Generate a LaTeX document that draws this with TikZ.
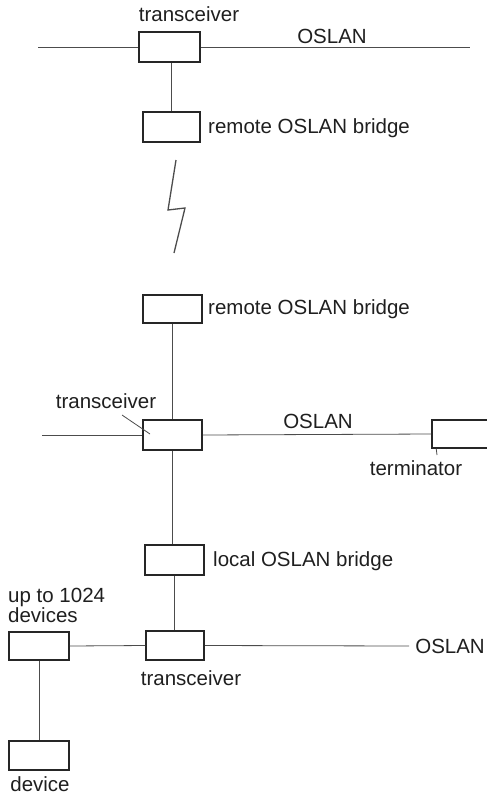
\documentclass[tikz,border=0pt]{standalone}
\usepackage{fontspec}
\setmainfont{Liberation Sans}
\begin{document}
\begin{tikzpicture}[x=1pt,y=-1pt,
  box/.style={draw=black!85,line width=1.5pt,rectangle,inner sep=0pt},
  wire/.style={draw=black!70,line width=0.8pt},
  lbl/.style={inner sep=0pt,text=black!88,font=\fontsize{20.5}{22}\selectfont}]
\useasboundingbox (0,0) rectangle (487,796);
% boxes
\node[box,minimum width=61pt,minimum height=30pt] (tx1) at (169.5,47) {};
\node[box,minimum width=57pt,minimum height=30pt] (rb1) at (171.5,127) {};
\node[box,minimum width=59pt,minimum height=28pt] (rb2) at (172.5,309) {};
\node[box,minimum width=59pt,minimum height=30pt] (tx2) at (172.5,435) {};
\node[box,minimum width=68pt,minimum height=28pt] (term) at (466,434) {};
\node[box,minimum width=59pt,minimum height=30pt] (lb) at (174.5,560) {};
\node[box,minimum width=58pt,minimum height=29pt] (tx3) at (175,645.5) {};
\node[box,minimum width=60pt,minimum height=28pt] (dev) at (39,646) {};
\node[box,minimum width=60pt,minimum height=29pt] (dv) at (39,755.5) {};
% free ends
\coordinate (b1l) at (38,47);
\coordinate (b1r) at (470,47);
\coordinate (b2l) at (42,435);
\coordinate (b3r) at (409,646);
\coordinate (tick) at (437,455);
\coordinate (lead) at (150,434);
% labels
\node[lbl,anchor=base] (ltx1) at (189,21) {transceiver};
\node[lbl,anchor=base] (los1) at (332,43) {OSLAN};
\node[lbl,anchor=base west] (lrb1) at (208,133) {remote OSLAN bridge};
\node[lbl,anchor=base west] (lrb2) at (208,314) {remote OSLAN bridge};
\node[lbl,anchor=base] (ltx2) at (106,408) {transceiver};
\node[lbl,anchor=base] (los2) at (318,428) {OSLAN};
\node[lbl,anchor=base] (lterm) at (416,475) {terminator};
\node[lbl,anchor=base west] (llb) at (213,566) {local OSLAN bridge};
\node[lbl,anchor=base east] (los3) at (485,653) {OSLAN};
\node[lbl,anchor=base west] (ldev1) at (8,602) {up to 1024};
\node[lbl,anchor=base west] (ldev2) at (8,622) {devices};
\node[lbl,anchor=base] (ltx3) at (191,685) {transceiver};
\node[lbl,anchor=base] (ldv) at (40,791) {device};
% connectors
\draw[wire] (b1l) -- (tx1.west);
\draw[wire] (tx1.east) -- (b1r);
\draw[wire] (tx1.south -| rb1.north) -- (rb1.north);
\draw[wire] (rb2.south) -- (rb2.south |- tx2.north);
\draw[wire] (b2l) -- (tx2.west);
\draw[wire] (tx2.east) -- (term.west);
\draw[wire] (term.south west) ++(5,0) -- (tick);
\draw[wire] (tx2.south) -- (tx2.south |- lb.north);
\draw[wire] (lb.south) -- (lb.south |- tx3.north);
\draw[wire] (tx3.east) -- (b3r);
\draw[wire] (dev.east) -- (tx3.west);
\draw[wire] (dev.south) -- (dv.north);
\draw[wire] (122,415) -- (lead);
% lightning (radio link)
\draw[draw=black!70,line width=1.3pt,line join=miter]
  (176,160) -- (168,210) -- (185,208) -- (174,253);
\end{tikzpicture}
\end{document}
